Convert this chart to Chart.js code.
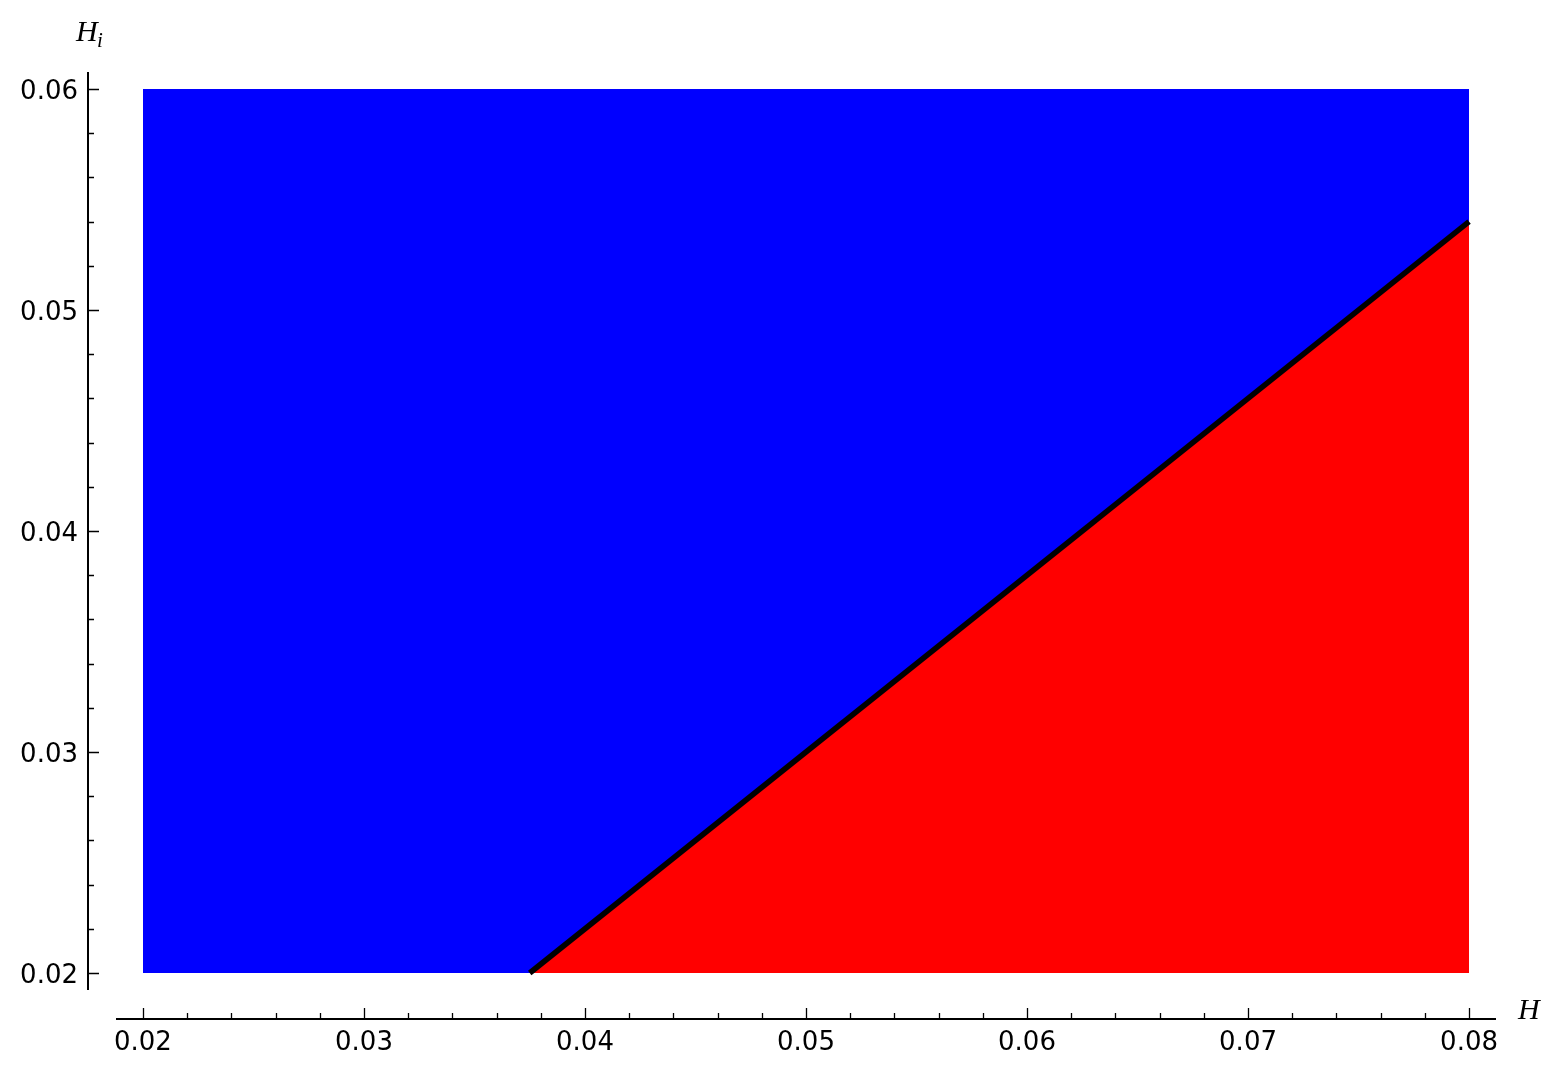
<!DOCTYPE html>
<html>
<head>
<meta charset="utf-8">
<script src="https://cdn.jsdelivr.net/npm/chart.js@4"></script>
<style>
  body { margin: 0; background: #fff; }
</style>
</head>
<body>
<canvas id="regionChart" width="1564" height="1071"></canvas>
<script>
// Region boundaries
const regionH = [0.02, 0.08];
const regionTopHi = [0.06, 0.06];
const floorHi = 0.02;
const boundaryH = [0.0375, 0.08];
const boundaryHi = [0.02, 0.054];

// Axis ticks
const xMajorTicks = [0.02, 0.03, 0.04, 0.05, 0.06, 0.07, 0.08];
const yMajorTicks = [0.02, 0.03, 0.04, 0.05, 0.06];
const minorStep = 0.002;

function withMinor(majors) {
    const out = [];
    for (let i = 0; i < majors.length; i++) {
        out.push({ value: majors[i], major: true });
        if (i < majors.length - 1) {
            for (let k = 1; k < 5; k++) {
                out.push({ value: +(majors[i] + k * minorStep).toFixed(4), major: false });
            }
        }
    }
    return out;
}

const tickFont = { family: "DejaVu Sans", size: 26 };

// Draws the offset axis lines, inward tick marks and axis titles
const axesPlugin = {
    id: "offsetAxes",
    afterDraw(chart) {
        const ctx = chart.ctx;
        const area = chart.chartArea;
        const xs = chart.scales.x;
        const ys = chart.scales.y;
        const axisX = area.left - 28;
        const axisY = area.bottom + 29;
        ctx.save();
        ctx.strokeStyle = "#000";
        ctx.lineWidth = 2;
        ctx.beginPath();
        ctx.moveTo(axisX, area.top);
        ctx.lineTo(axisX, area.bottom);
        ctx.moveTo(area.left, axisY);
        ctx.lineTo(area.right, axisY);
        ctx.stroke();

        ctx.lineWidth = 1.3;
        ctx.beginPath();
        ys.ticks.forEach(t => {
            const py = Math.round(ys.getPixelForValue(t.value)) + 0.5;
            ctx.moveTo(axisX, py);
            ctx.lineTo(axisX + (t.major ? 11 : 6), py);
        });
        xs.ticks.forEach(t => {
            const px = Math.round(xs.getPixelForValue(t.value)) + 0.5;
            ctx.moveTo(px, axisY);
            ctx.lineTo(px, axisY - (t.major ? 11 : 6));
        });
        ctx.stroke();

        ctx.fillStyle = "#000";
        ctx.textBaseline = "alphabetic";
        ctx.textAlign = "left";
        ctx.font = "italic 30px 'Liberation Serif'";
        ctx.fillText("H", 76, 41);
        ctx.fillText("H", 1518, 1019);
        ctx.font = "italic 21px 'Liberation Serif'";
        ctx.fillText("i", 97, 47);
        ctx.restore();
    }
};

const ctx = document.getElementById("regionChart").getContext("2d");

new Chart(ctx, {
    type: "line",
    data: {
        datasets: [
            {
                label: "Hi > boundary",
                data: regionH.map((h, i) => ({ x: h, y: regionTopHi[i] })),
                backgroundColor: "#0000ff",
                borderColor: "rgba(0,0,0,0)",
                borderWidth: 0,
                pointRadius: 0,
                fill: { value: floorHi },
                order: 2
            },
            {
                label: "boundary",
                data: boundaryH.map((h, i) => ({ x: h, y: boundaryHi[i] })),
                backgroundColor: "#ff0000",
                borderColor: "#000000",
                borderWidth: 5.5,
                pointRadius: 0,
                fill: { value: floorHi },
                order: 1
            }
        ]
    },
    options: {
        responsive: false,
        animation: false,
        events: [],
        layout: { padding: { top: 72, right: 68, left: 0, bottom: 0 } },
        plugins: {
            legend: { display: false },
            tooltip: { enabled: false }
        },
        scales: {
            x: {
                type: "linear",
                min: 0.01878,
                max: 0.08122,
                border: { display: false },
                grid: { display: false },
                afterBuildTicks: scale => { scale.ticks = withMinor(xMajorTicks); },
                afterFit: scale => { scale.height = 81; },
                ticks: {
                    autoSkip: false,
                    maxRotation: 0,
                    padding: 30,
                    color: "#000",
                    font: tickFont,
                    callback: function (value, index, ticks) {
                        return ticks[index].major ? value.toFixed(2) : "";
                    }
                }
            },
            y: {
                type: "linear",
                min: 0.01923,
                max: 0.06077,
                border: { display: false },
                grid: { display: false },
                afterBuildTicks: scale => { scale.ticks = withMinor(yMajorTicks); },
                afterFit: scale => { scale.width = 116; },
                ticks: {
                    autoSkip: false,
                    padding: 30,
                    labelOffset: 3,
                    color: "#000",
                    font: tickFont,
                    callback: function (value, index, ticks) {
                        return ticks[index].major ? value.toFixed(2) : "";
                    }
                }
            }
        }
    },
    plugins: [axesPlugin]
});
</script>
</body>
</html>
